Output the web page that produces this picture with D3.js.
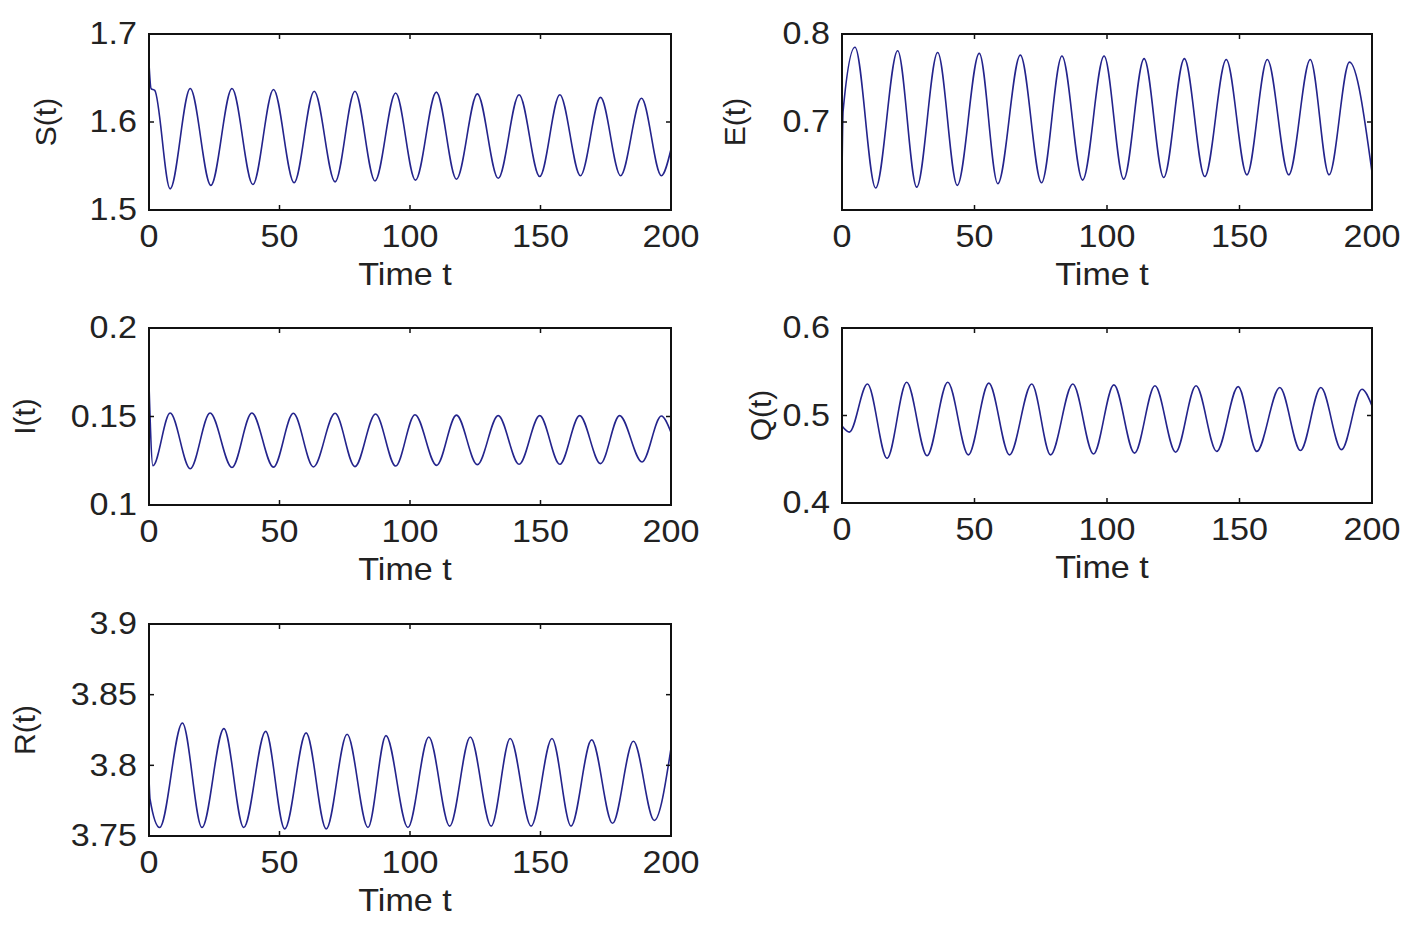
<!DOCTYPE html>
<html>
<head>
<meta charset="utf-8">
<title>S E I Q R</title>
<script src="https://cdn.jsdelivr.net/npm/d3@7"></script>
<style>
  body { margin: 0; background: #fff; }
  text { font-family: "Liberation Sans", Arial, sans-serif; fill: #222; }
  .frame { fill: none; stroke: #111; stroke-width: 2; }
  .curve { fill: none; stroke: #24248c; stroke-width: 1.6; }
</style>
</head>
<body>
<div id="chart"></div>
<script>
const width = 1411
const height = 933

// Values: turning points of each curve (time, value)
const sT = [0, 0.8, 2.2, 8.1, 15.8, 23.7, 31.8, 39.8, 47.7, 55.6, 63.3, 71.3, 78.9, 86.6, 94.5, 102.1, 110.1, 117.8, 125.8, 133.8, 141.8, 149.7, 157.4, 165.3, 173.0, 180.7, 188.7, 196.3, 200]
const sV = [1.666, 1.638, 1.636, 1.524, 1.638, 1.528, 1.638, 1.529, 1.637, 1.531, 1.635, 1.532, 1.635, 1.533, 1.633, 1.534, 1.634, 1.535, 1.632, 1.536, 1.631, 1.538, 1.631, 1.539, 1.628, 1.539, 1.627, 1.539, 1.569]

const eT = [0, 0.4, 4.9, 12.7, 21.0, 28.2, 36.1, 43.5, 51.8, 58.8, 67.3, 75.3, 83.0, 90.8, 98.9, 106.3, 114.0, 121.4, 129.2, 136.9, 145.0, 152.8, 160.5, 168.6, 176.7, 183.8, 191.5, 200]
const eV = [0.640, 0.712, 0.785, 0.625, 0.781, 0.626, 0.779, 0.628, 0.778, 0.630, 0.776, 0.631, 0.775, 0.634, 0.775, 0.635, 0.772, 0.637, 0.772, 0.638, 0.771, 0.640, 0.771, 0.640, 0.771, 0.640, 0.768, 0.643]

const iT = [0, 1.5, 8.1, 15.8, 23.4, 31.8, 39.4, 47.7, 55.3, 63.0, 71.3, 78.9, 86.8, 94.5, 101.9, 110.2, 117.8, 125.8, 133.8, 141.8, 149.7, 157.4, 165.0, 173.0, 180.3, 188.9, 196.3, 200]
const iV = [0.168, 0.1222, 0.152, 0.1205, 0.152, 0.1212, 0.152, 0.1214, 0.1518, 0.1215, 0.1518, 0.1217, 0.1514, 0.122, 0.151, 0.1224, 0.1508, 0.1228, 0.1505, 0.123, 0.1505, 0.123, 0.1505, 0.1234, 0.1505, 0.1243, 0.1503, 0.141]

const qT = [0, 2.8, 9.6, 17.0, 24.4, 32.1, 39.9, 47.7, 55.4, 63.2, 71.6, 78.7, 87.1, 94.9, 102.6, 110.4, 118.1, 125.9, 133.6, 141.4, 149.5, 156.5, 165.2, 173.0, 180.7, 188.5, 196.2, 200]
const qV = [0.488, 0.481, 0.536, 0.451, 0.538, 0.454, 0.538, 0.455, 0.537, 0.455, 0.536, 0.455, 0.536, 0.456, 0.535, 0.457, 0.534, 0.458, 0.534, 0.459, 0.533, 0.459, 0.532, 0.460, 0.532, 0.461, 0.530, 0.511]

const rT = [0, 0.4, 4.1, 12.8, 20.3, 28.7, 36.3, 44.7, 52.0, 60.2, 67.9, 75.9, 83.9, 90.8, 99.2, 107.2, 115.2, 123.1, 131.1, 138.4, 146.4, 154.4, 161.7, 169.6, 177.6, 185.6, 193.6, 200]
const rV = [3.791, 3.776, 3.756, 3.830, 3.756, 3.826, 3.756, 3.824, 3.755, 3.823, 3.755, 3.822, 3.756, 3.821, 3.756, 3.820, 3.757, 3.820, 3.757, 3.819, 3.757, 3.819, 3.757, 3.818, 3.759, 3.817, 3.761, 3.812]

const xTicks = [0, 50, 100, 150, 200]

// Panel boxes in page pixels
const panels = [
    {name: "S(t)", t: sT, v: sV, domain: [1.5, 1.7], ticks: [1.5, 1.6, 1.7], box: [149, 34, 671, 210], labelX: 45},
    {name: "E(t)", t: eT, v: eV, domain: [0.6, 0.8], ticks: [0.7, 0.8], box: [842, 34, 1372, 210], labelX: 734},
    {name: "I(t)", t: iT, v: iV, domain: [0.1, 0.2], ticks: [0.1, 0.15, 0.2], box: [149, 328, 671, 505], labelX: 24},
    {name: "Q(t)", t: qT, v: qV, domain: [0.4, 0.6], ticks: [0.4, 0.5, 0.6], box: [842, 328, 1372, 503], labelX: 760},
    {name: "R(t)", t: rT, v: rV, domain: [3.75, 3.9], ticks: [3.75, 3.8, 3.85, 3.9], box: [149, 624, 671, 836], labelX: 24}
]

const svg = d3.select("div#chart").append("svg").attr("width", width).attr("height", height)
const fontSize = 31
const stretch = 1.1 // the picture's text is a little wide

function addText(g, x, y, str, anchor) {
    g.append("g").attr("transform", `translate(${x}, ${y}) scale(${stretch}, 1)`)
        .append("text")
        .attr("text-anchor", anchor)
        .attr("dominant-baseline", "central")
        .attr("font-size", fontSize)
        .text(str)
}

panels.forEach((p, k) => {
    const [x0, y0, x1, y1] = p.box
    const x = d3.scaleLinear().domain([0, 200]).range([x0, x1])
    const y = d3.scaleLinear().domain(p.domain).range([y1, y0])
    const g = svg.append("g").attr("class", "panel")

    g.append("clipPath").attr("id", "clip" + k)
        .append("rect").attr("x", x0).attr("y", y0).attr("width", x1 - x0).attr("height", y1 - y0)

    const data = p.t.map((t, i) => ({t: t, v: p.v[i]}))
    const line = d3.line().x(d => x(d.t)).y(d => y(d.v)).curve(d3.curveMonotoneX)
    g.append("path").datum(data).attr("class", "curve").attr("clip-path", `url(#clip${k})`).attr("d", line)

    // inward ticks on all four sides, like the box of the original
    const tickLen = 5
    const ticks = g.append("g").attr("stroke", "#111").attr("stroke-width", 1.5)
    xTicks.forEach(t => {
        ticks.append("line").attr("x1", x(t)).attr("x2", x(t)).attr("y1", y1).attr("y2", y1 - tickLen)
        ticks.append("line").attr("x1", x(t)).attr("x2", x(t)).attr("y1", y0).attr("y2", y0 + tickLen)
    })
    p.ticks.forEach(v => {
        ticks.append("line").attr("x1", x0).attr("x2", x0 + tickLen).attr("y1", y(v)).attr("y2", y(v))
        ticks.append("line").attr("x1", x1).attr("x2", x1 - tickLen).attr("y1", y(v)).attr("y2", y(v))
    })

    g.append("rect").attr("class", "frame").attr("x", x0).attr("y", y0).attr("width", x1 - x0).attr("height", y1 - y0)

    // tick labels
    xTicks.forEach(t => addText(g, x(t), y1 + 27, String(t), "middle"))
    p.ticks.forEach(v => addText(g, x0 - 12, y(v), String(v), "end"))

    addText(g, (x0 + x1) / 2 - 5, y1 + 65, "Time t", "middle")

    g.append("text")
        .attr("transform", `translate(${p.labelX}, ${(y0 + y1) / 2}) rotate(-90)`)
        .attr("text-anchor", "middle")
        .attr("dominant-baseline", "central")
        .attr("font-size", 30)
        .text(p.name)
})
</script>
</body>
</html>
